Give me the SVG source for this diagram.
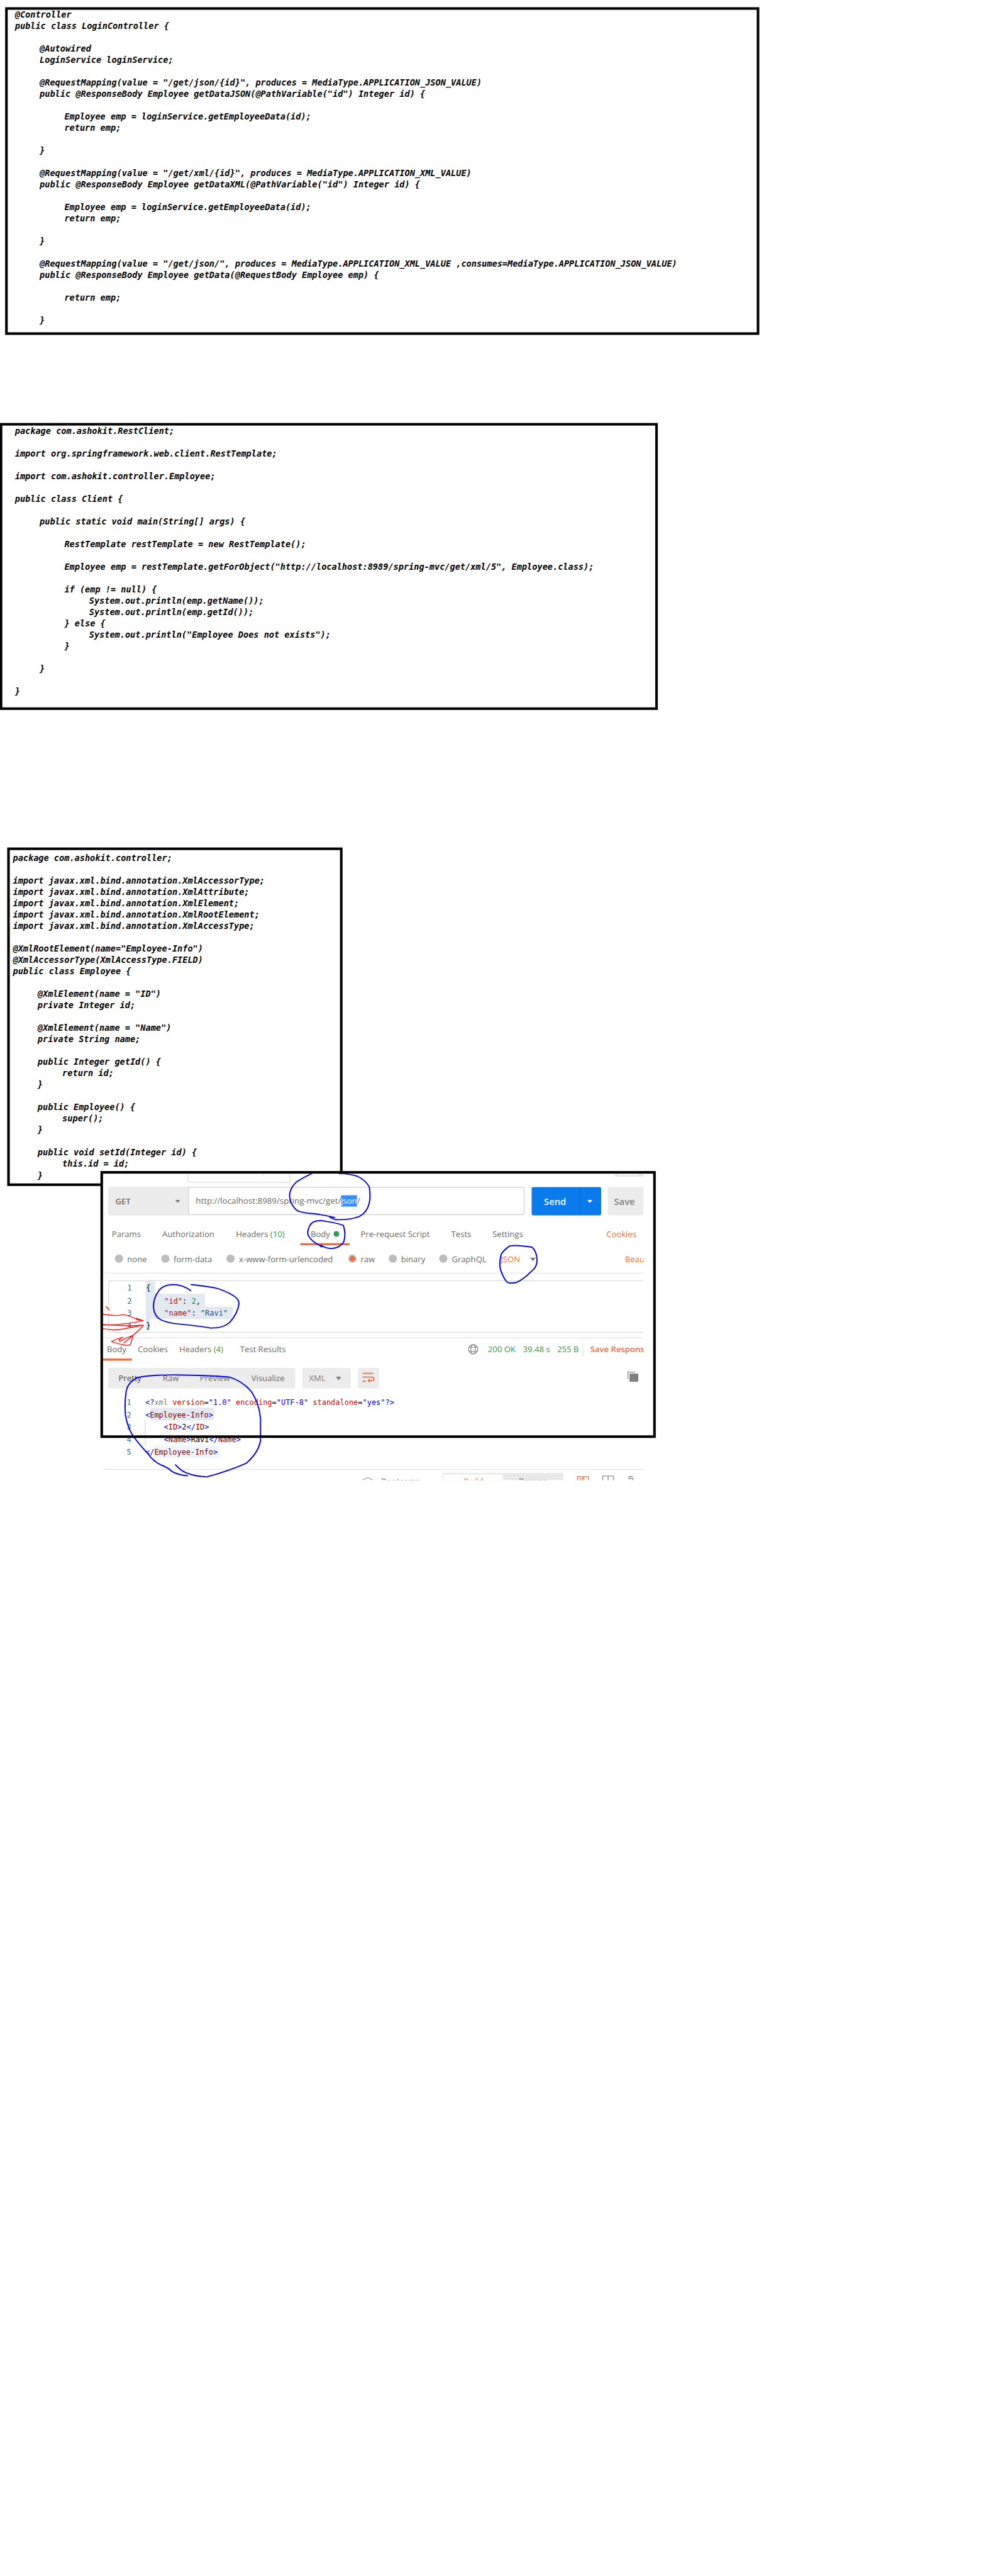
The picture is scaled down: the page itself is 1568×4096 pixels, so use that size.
<svg xmlns="http://www.w3.org/2000/svg" width="1568" height="4096" viewBox="0 0 1568 4096">
<style>
.box{fill:#fff;stroke:#000;stroke-width:5}
.frame{fill:none;stroke:#000;stroke-width:5}
.code{font-family:"DejaVu Sans Mono","Liberation Mono",monospace;font-weight:700;font-style:italic;font-size:16.6px;fill:#000}
.ui{font-family:"Open Sans","Noto Sans",sans-serif;font-size:16px;fill:#6b6b6b}
.b{font-weight:600}
.o{fill:#f26b3a}
.g{fill:#26a04a}
.mono{font-family:"DejaVu Sans Mono","Liberation Mono",monospace;font-size:14.6px}
.num{fill:#237893}
.k{fill:#a31515}
.bl{fill:#0000ff}
.mr{fill:#800000}
.rd{fill:#e50000}
.blue{fill:none;stroke:#0a0ae6;stroke-width:7;stroke-linecap:round;stroke-linejoin:round}
.red{fill:none;stroke:#ff1a1a;stroke-width:5;stroke-linecap:round;stroke-linejoin:round}
.radio{fill:#bdbdbd}
.ln{stroke:#e3e3e3;stroke-width:1.5}
.tri{fill:#808080}
</style>
<defs>
<clipPath id="shot"><rect x="200" y="2278" width="1049" height="595"/></clipPath>
</defs>
<g transform="scale(0.8192)">
<rect width="1914" height="5000" fill="#fff"/>

<g id="login-controller">
<rect class="box" x="12.5" y="16.5" width="1459" height="631"/>
<text class="code" x="29" y="34">@Controller</text>
<text class="code" x="29" y="56">public class LoginController {</text>
<text class="code" x="77" y="100">@Autowired</text>
<text class="code" x="77" y="122">LoginService loginService;</text>
<text class="code" x="77" y="166">@RequestMapping(value = "/get/json/{id}", produces = MediaType.APPLICATION_JSON_VALUE)</text>
<text class="code" x="77" y="188">public @ResponseBody Employee getDataJSON(@PathVariable("id") Integer id) {</text>
<text class="code" x="125" y="232">Employee emp = loginService.getEmployeeData(id);</text>
<text class="code" x="125" y="254">return emp;</text>
<text class="code" x="77" y="298">}</text>
<text class="code" x="77" y="342">@RequestMapping(value = "/get/xml/{id}", produces = MediaType.APPLICATION_XML_VALUE)</text>
<text class="code" x="77" y="364">public @ResponseBody Employee getDataXML(@PathVariable("id") Integer id) {</text>
<text class="code" x="125" y="408">Employee emp = loginService.getEmployeeData(id);</text>
<text class="code" x="125" y="430">return emp;</text>
<text class="code" x="77" y="474">}</text>
<text class="code" x="77" y="518">@RequestMapping(value = "/get/json/", produces = MediaType.APPLICATION_XML_VALUE ,consumes=MediaType.APPLICATION_JSON_VALUE)</text>
<text class="code" x="77" y="540">public @ResponseBody Employee getData(@RequestBody Employee emp) {</text>
<text class="code" x="125" y="584">return emp;</text>
<text class="code" x="77" y="628">}</text>
</g>

<g id="rest-client">
<rect class="box" x="2" y="823.5" width="1272.5" height="552"/>
<text class="code" x="29" y="842">package com.ashokit.RestClient;</text>
<text class="code" x="29" y="886">import org.springframework.web.client.RestTemplate;</text>
<text class="code" x="29" y="930">import com.ashokit.controller.Employee;</text>
<text class="code" x="29" y="974">public class Client {</text>
<text class="code" x="77" y="1018">public static void main(String[] args) {</text>
<text class="code" x="125" y="1062">RestTemplate restTemplate = new RestTemplate();</text>
<text class="code" x="125" y="1106">Employee emp = restTemplate.getForObject("http://localhost:8989/spring-mvc/get/xml/5", Employee.class);</text>
<text class="code" x="125" y="1150">if (emp != null) {</text>
<text class="code" x="173" y="1172">System.out.println(emp.getName());</text>
<text class="code" x="173" y="1194">System.out.println(emp.getId());</text>
<text class="code" x="125" y="1216">} else {</text>
<text class="code" x="173" y="1238">System.out.println("Employee Does not exists");</text>
<text class="code" x="125" y="1260">}</text>
<text class="code" x="77" y="1304">}</text>
<text class="code" x="29" y="1348">}</text>
</g>

<g id="employee-class">
<rect class="box" x="16.5" y="1647.5" width="646" height="652"/>
<text class="code" x="25" y="1671">package com.ashokit.controller;</text>
<text class="code" x="25" y="1715">import javax.xml.bind.annotation.XmlAccessorType;</text>
<text class="code" x="25" y="1737">import javax.xml.bind.annotation.XmlAttribute;</text>
<text class="code" x="25" y="1759">import javax.xml.bind.annotation.XmlElement;</text>
<text class="code" x="25" y="1781">import javax.xml.bind.annotation.XmlRootElement;</text>
<text class="code" x="25" y="1803">import javax.xml.bind.annotation.XmlAccessType;</text>
<text class="code" x="25" y="1847">@XmlRootElement(name="Employee-Info")</text>
<text class="code" x="25" y="1869">@XmlAccessorType(XmlAccessType.FIELD)</text>
<text class="code" x="25" y="1891">public class Employee {</text>
<text class="code" x="73" y="1935">@XmlElement(name = "ID")</text>
<text class="code" x="73" y="1957">private Integer id;</text>
<text class="code" x="73" y="2001">@XmlElement(name = "Name")</text>
<text class="code" x="73" y="2023">private String name;</text>
<text class="code" x="73" y="2067">public Integer getId() {</text>
<text class="code" x="121" y="2089">return id;</text>
<text class="code" x="73" y="2111">}</text>
<text class="code" x="73" y="2155">public Employee() {</text>
<text class="code" x="121" y="2177">super();</text>
<text class="code" x="73" y="2199">}</text>
<text class="code" x="73" y="2243">public void setId(Integer id) {</text>
<text class="code" x="121" y="2265">this.id = id;</text>
<text class="code" x="73" y="2287">}</text>
</g>

<g id="postman-screenshot">
<rect x="197.5" y="2275.5" width="1073" height="513" fill="#fff"/>
<g clip-path="url(#shot)">
<rect x="365" y="2270" width="198" height="25" rx="3" fill="#fff" stroke="#dcdcdc" stroke-width="1.5"/>
<line x1="511" y1="2278" x2="511" y2="2284" stroke="#ddd"/>
<rect x="1194" y="2270" width="60" height="14" fill="#e8e8e8"/>
<rect x="1198" y="2270" width="42" height="11" rx="3" fill="#fff"/>

<rect x="211" y="2304.5" width="158" height="54" rx="3" fill="#ececec" stroke="#dedede"/>
<rect x="366" y="2304.5" width="651.5" height="53" rx="3" fill="#fff" stroke="#cfcfcf" stroke-width="1.5"/>
<text class="ui b" x="224" y="2338">GET</text>
<path class="tri" d="M340 2329h10l-5 6z"/>
<rect x="662" y="2320" width="31" height="22" fill="#338fff"/>
<text class="ui" x="380" y="2337" textLength="282" lengthAdjust="spacingAndGlyphs">http://localhost:8989/spring-mvc/get/</text>
<text class="ui" x="662" y="2337" textLength="31" lengthAdjust="spacingAndGlyphs" style="fill:#fff">json</text>
<text class="ui" x="693" y="2337">/</text>
<rect x="1032" y="2304" width="135" height="55" rx="3" fill="#097bed"/>
<line x1="1126" y1="2304" x2="1126" y2="2359" stroke="#0668cc"/>
<text class="ui b" x="1056" y="2339" style="font-size:18px;fill:#fff">Send</text>
<path d="M1140 2329h10l-5 6z" fill="#fff"/>
<rect x="1180" y="2304" width="75" height="55" rx="3" fill="#ececec"/>
<text class="ui b" x="1192" y="2339" style="font-size:18px;fill:#808080">Save</text>

<text class="ui" x="217" y="2401">Params</text>
<text class="ui" x="315" y="2401">Authorization</text>
<text class="ui" x="458" y="2401">Headers <tspan class="g">(10)</tspan></text>
<text class="ui" x="603" y="2401">Body</text>
<circle cx="653" cy="2395" r="5.5" fill="#26a04a"/>
<text class="ui" x="700" y="2401">Pre-request Script</text>
<text class="ui" x="876" y="2401">Tests</text>
<text class="ui" x="956" y="2401">Settings</text>
<text class="ui o" x="1177" y="2401">Cookies</text>
<rect x="583" y="2413" width="96" height="4" fill="#f26b3a"/>

<circle class="radio" cx="231" cy="2443" r="8"/><text class="ui" x="247" y="2450">none</text>
<circle class="radio" cx="321" cy="2443" r="8"/><text class="ui" x="337" y="2450">form-data</text>
<circle class="radio" cx="447.5" cy="2443" r="8"/><text class="ui" x="464" y="2450">x-www-form-urlencoded</text>
<circle class="radio" cx="684" cy="2443" r="8"/><circle cx="684" cy="2443" r="5" fill="#f26b3a"/><text class="ui" x="700" y="2450">raw</text>
<circle class="radio" cx="762.5" cy="2443" r="8"/><text class="ui" x="778.5" y="2450">binary</text>
<circle class="radio" cx="860.5" cy="2443" r="8"/><text class="ui" x="877" y="2450">GraphQL</text>
<text class="ui o" x="972" y="2450">JSON</text>
<path class="tri" d="M1029 2441h11l-5.5 7z"/>
<text class="ui o" x="1213" y="2450">Beautify</text>
<line class="ln" x1="200" y1="2471" x2="1249" y2="2471"/>

<rect x="211" y="2486" width="1060" height="100" rx="2" fill="#fff" stroke="#d4d4d4" stroke-width="1.2"/>
<rect x="283" y="2487" width="18" height="26" rx="3" fill="#e4e9f0"/>
<rect x="283" y="2511" width="115" height="27" rx="3" fill="#e4e9f0"/>
<rect x="283" y="2536" width="169" height="24" rx="3" fill="#e4e9f0"/>
<rect x="283" y="2558" width="9" height="25" rx="3" fill="#e4e9f0"/>
<text class="mono num" x="247" y="2505">1</text>
<text class="mono num" x="247" y="2530">2</text>
<text class="mono num" x="247" y="2554">3</text>
<text class="mono num" x="247" y="2578">4</text>
<text class="mono" x="283.5" y="2505">{</text>
<text class="mono" x="319" y="2530"><tspan class="k">"id"</tspan>: <tspan fill="#09885a">2</tspan>,</text>
<text class="mono" x="319" y="2554"><tspan class="k">"name"</tspan>: <tspan fill="#0451a5">"Ravi"</tspan></text>
<text class="mono" x="283.5" y="2578">}</text>
<line class="ln" x1="200" y1="2597" x2="1249" y2="2597"/>

<text class="ui" x="207.5" y="2625">Body</text>
<text class="ui" x="267.5" y="2625">Cookies</text>
<text class="ui" x="348" y="2625">Headers <tspan class="g">(4)</tspan></text>
<text class="ui" x="466" y="2625">Test Results</text>
<rect x="200" y="2637" width="56" height="4" fill="#f26b3a"/>
<g fill="none" stroke="#808080" stroke-width="1.4">
<circle cx="918.5" cy="2619" r="9"/><ellipse cx="918.5" cy="2619" rx="4.5" ry="9"/><path d="M910 2615h17M910 2623h17"/>
</g>
<text class="ui g" x="947" y="2625">200 OK</text>
<text class="ui g" x="1015" y="2625">39.48 s</text>
<text class="ui g" x="1081.5" y="2625">255 B</text>
<line class="ln" x1="1131.5" y1="2606" x2="1131.5" y2="2633"/>
<text class="ui o b" x="1146" y="2625">Save Response</text>

<rect x="210" y="2655" width="363" height="40" rx="3" fill="#ececec"/>
<text class="ui" x="230" y="2681" style="fill:#4a4a4a">Pretty</text>
<text class="ui" x="316" y="2681">Raw</text>
<text class="ui" x="388" y="2681">Preview</text>
<text class="ui" x="488" y="2681">Visualize</text>
<rect x="587" y="2655" width="94" height="40" rx="3" fill="#ececec"/>
<text class="ui" x="600" y="2681" style="fill:#808080">XML</text>
<path class="tri" d="M652 2672h10.5l-5.25 7z"/>
<rect x="695" y="2655" width="41" height="40" rx="3" fill="#ececec"/>
<path d="M704 2665.5h21M704 2673h17q5 0 5 3.5t-5 3.5h-5M704 2681h6M718 2677l-3 3 3 3" fill="none" stroke="#f26b3a" stroke-width="2.2"/>
<path d="M1219 2677v-14h14" fill="none" stroke="#808080" stroke-width="1.5"/>
<rect x="1222" y="2666" width="17" height="16" rx="1" fill="#808080"/>

<rect x="291" y="2733" width="124" height="24" rx="4" fill="#e4e9f0"/>
<rect x="299" y="2806" width="126" height="24" fill="#eff5fc"/>
<line x1="282" y1="2757" x2="282" y2="2806" stroke="#ccc" stroke-width="1.2"/>
<text class="mono num" x="246" y="2727">1</text>
<text class="mono num" x="246" y="2751">2</text>
<text class="mono num" x="246" y="2775">3</text>
<text class="mono num" x="246" y="2799">4</text>
<text class="mono num" x="246" y="2823">5</text>
<text class="mono" x="282" y="2727"><tspan class="bl">&lt;?</tspan><tspan fill="#808080">xml</tspan> <tspan class="rd">version</tspan>=<tspan class="bl">"1.0"</tspan> <tspan class="rd">encoding</tspan>=<tspan class="bl">"UTF-8"</tspan> <tspan class="rd">standalone</tspan>=<tspan class="bl">"yes"?&gt;</tspan></text>
<text class="mono" x="282" y="2751"><tspan class="bl">&lt;</tspan><tspan class="mr">Employee-Info</tspan><tspan class="bl">&gt;</tspan></text>
<text class="mono" x="318" y="2775"><tspan class="bl">&lt;</tspan><tspan class="mr">ID</tspan><tspan class="bl">&gt;</tspan>2<tspan class="bl">&lt;/</tspan><tspan class="mr">ID</tspan><tspan class="bl">&gt;</tspan></text>
<text class="mono" x="318" y="2799"><tspan class="bl">&lt;</tspan><tspan class="mr">Name</tspan><tspan class="bl">&gt;</tspan>Ravi<tspan class="bl">&lt;/</tspan><tspan class="mr">Name</tspan><tspan class="bl">&gt;</tspan></text>
<text class="mono" x="282" y="2823"><tspan class="bl">&lt;/</tspan><tspan class="mr">Employee-Info</tspan><tspan class="bl">&gt;</tspan></text>

<line class="ln" x1="200" y1="2852" x2="1249" y2="2852"/>
<path d="M703 2873l11-5 11 5" fill="none" stroke="#808080" stroke-width="1.2"/>
<text class="ui" x="740" y="2881">Bootcamp</text>
<rect x="859" y="2859" width="234.5" height="30" rx="3" fill="#e8e8e8"/>
<rect x="861" y="2862" width="115" height="30" rx="3" fill="#fff"/>
<text class="ui o" x="900" y="2881">Build</text>
<text class="ui" x="1007" y="2881">Browse</text>
<path d="M1121 2890v-24h21v24M1124 2870h8M1124 2873h8M1133 2866v24" fill="none" stroke="#f26b3a" stroke-width="1.5"/>
<path d="M1170 2890v-25h21v25M1180.5 2865v25" fill="none" stroke="#808080" stroke-width="1.5"/>
<path d="M1229 2866h-8v4h8v4h-8" fill="none" stroke="#808080" stroke-width="1.5"/>

<g transform="translate(180 2260) scale(.35714 .33333)">
<path class="blue" d="M1190 54Q1130 85 1105 105Q1075 135 1070 175Q1070 235 1115 272Q1150 285 1200 287Q1260 295 1315 310L1285 304Q1300 318 1320 322Q1400 325 1450 303Q1490 280 1502 230Q1512 190 1503 130Q1480 90 1440 70Q1400 55 1340 54"/>
<path class="blue" d="M1245 480Q1215 462 1195 445Q1168 420 1168 395Q1175 350 1200 335Q1225 322 1275 333Q1340 345 1362 355Q1378 400 1365 450Q1345 487 1300 490Q1265 490 1240 470"/>
<path class="blue" d="M532 735Q490 700 430 700Q380 705 360 735Q328 780 330 835Q335 885 370 905Q410 925 470 930Q560 938 640 953Q710 955 745 920Q790 865 795 810Q795 785 765 765Q720 735 660 718Q600 708 535 700"/>
<path class="red" d="M72 828L90 847"/>
<path class="red" d="M55 873Q130 885 165 875Q200 880 245 905L275 910M55 935Q180 935 275 910M235 895L275 910L240 905"/>
<path class="red" d="M50 955Q110 970 170 958L275 936M55 932Q170 945 275 936"/>
<path class="red" d="M275 940Q230 990 170 1040M220 995Q210 1030 205 1050L190 1055Q150 1050 102 1032Q130 1015 165 1008Q130 1025 150 1030Q180 1010 220 995"/>
</g>
<g transform="translate(720 2260) scale(.35714 .33333)">
<path class="blue" d="M755 475Q790 468 875 482Q902 505 903 560Q903 600 870 625Q830 670 790 688Q750 697 735 680Q715 650 705 615Q695 575 708 525Q720 500 755 475"/>
</g>
<g transform="translate(180 2580) scale(.35714 .33333)">
<path class="blue" d="M515 853Q465 850 430 828Q410 805 370 790Q330 770 300 725Q260 680 225 630Q190 580 178 500Q172 430 182 360Q195 300 250 280Q330 265 460 266Q620 268 740 278Q810 300 860 360Q905 430 912 520L912 650Q900 720 835 780Q740 825 620 860Q530 855 480 820L450 790"/>
</g>
</g>
<rect class="frame" x="197.5" y="2275.5" width="1073" height="513"/>
</g>
</g>
</svg>
